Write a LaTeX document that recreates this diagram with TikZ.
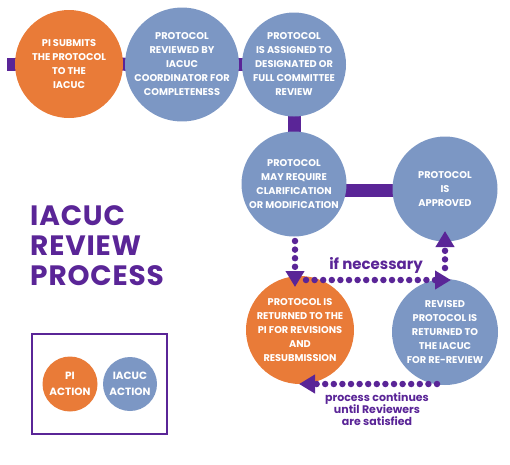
\documentclass[tikz,border=0pt]{standalone}
\usepackage{fontspec}
\setmainfont{Poppins}
\newfontfamily\titlefont[LetterSpace=3]{Poppins}
\usetikzlibrary{arrows.meta}
\pgfdeclarelayer{bg}
\pgfsetlayers{bg,main}
\definecolor{orng}{HTML}{E97B38}
\definecolor{blu}{HTML}{7C97C4}
\definecolor{purp}{HTML}{5A2597}
\tikzset{
  stage/.style={circle, inner sep=0pt, minimum size=#1, text=white, align=center,
    font=\fontsize{9.8}{14}\selectfont\bfseries},
  pi/.style={stage=#1, fill=orng},
  iac/.style={stage=#1, fill=blu},
  bar/.style={draw=purp, line width=13pt},
  dotline/.style={draw=purp, line width=6.5pt, line cap=round, dash pattern=on 0pt off 8.6pt,
    -{Triangle[length=16pt,width=18pt,fill=purp]}},
  note/.style={text=purp, font=\bfseries, align=center},
}
\begin{document}
\begin{tikzpicture}[x=1pt,y=-1pt]
\useasboundingbox (0,0) rectangle (510,464);
\coordinate (lstart) at (7,64);
\node[pi=108pt] (c1) at (69,64) {PI SUBMITS\\THE PROTOCOL\\TO THE\\IACUC};
\node[iac=104pt] (c2) at (182,64.5) {PROTOCOL\\REVIEWED BY\\IACUC\\COORDINATOR FOR\\COMPLETENESS};
\node[iac=104pt] (c3) at (294,64.5) {PROTOCOL\\IS ASSIGNED TO\\DESIGNATED OR\\FULL COMMITTEE\\REVIEW};
\node[iac=105pt] (c4) at (294,184) {PROTOCOL\\MAY REQUIRE\\CLARIFICATION\\OR MODIFICATION};
\node[iac=105pt] (c5) at (445,189) {PROTOCOL\\IS\\APPROVED};
\node[pi=108pt] (c6) at (300,330) {PROTOCOL IS\\RETURNED TO THE\\PI FOR REVISIONS\\AND\\RESUBMISSION};
\node[iac=106pt] (c7) at (445,332) {REVISED\\PROTOCOL IS\\RETURNED TO\\THE IACUC\\FOR RE-REVIEW};
\coordinate (b4) at ([yshift=-6.5pt]c4.center);
\begin{pgfonlayer}{bg}
\draw[bar] (lstart) -- (c1.center);
\draw[bar] (c1.center) -- (c2.center);
\draw[bar] (c2.center) -- (c3.center);
\draw[bar] (c3.center) -- (c4.center);
\draw[bar] (b4) -- (b4 -| c5.center);
\end{pgfonlayer}
% dotted arrows
\coordinate (d1s) at (295,241);
\coordinate (d1e) at (295,287);
\draw[dotline] (d1s) -- (d1e);
\coordinate (d2s) at (306,280);
\coordinate (d2e) at (451,280);
\draw[dotline] (d2s) -- (d2e);
\coordinate (d3s) at (445,268);
\coordinate (d3e) at (445,231);
\draw[dotline] (d3s) -- (d3e);
\coordinate (d4s) at (437,384);
\coordinate (d4e) at (299,384);
\draw[dotline] (d4s) -- (d4e);
\node[note, font=\fontsize{15}{16}\selectfont\bfseries] (ifn) at (376,265) {if necessary};
\node[note, font=\fontsize{11}{12.3}\selectfont\bfseries] (pc) at (377,409) {process continues\\until Reviewers\\are satisfied};
% title
\node[note, anchor=north west, align=left, inner sep=0pt, font=\titlefont\fontsize{28}{30}\selectfont\bfseries] (title) at (30,205) {IACUC\\REVIEW\\PROCESS};
% legend
\node[draw=purp, line width=1.6pt, minimum width=135pt, minimum height=100pt, inner sep=0pt] (legend) at (99.5,384) {};
\node[pi=55pt, font=\fontsize{10.5}{15.5}\selectfont\bfseries] (l1) at (70,384) {PI\\ACTION};
\node[iac=54pt, font=\fontsize{10.5}{15.5}\selectfont\bfseries] (l2) at (130,384) {IACUC\\ACTION};
\end{tikzpicture}
\end{document}
